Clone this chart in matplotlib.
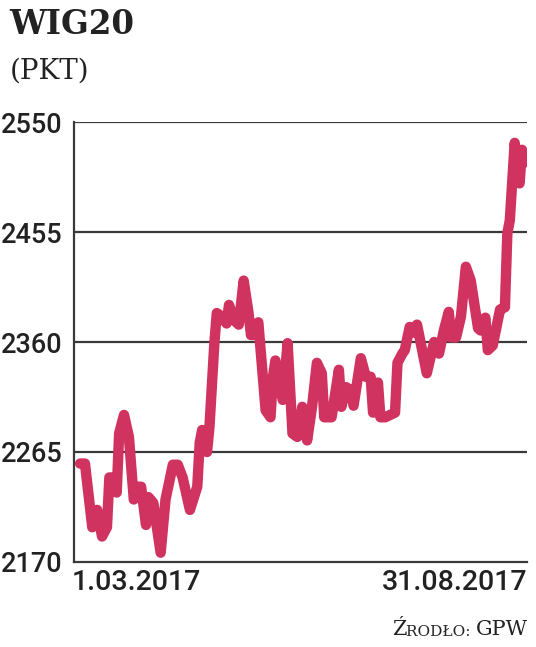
import matplotlib
matplotlib.use("Agg")
import matplotlib.pyplot as plt
import numpy as np

# WIG20 daily close (days since 1.03.2017)
days = [0, 2, 5, 7, 9, 11, 12, 14, 15, 16, 18, 20, 22, 24, 25, 27, 28, 30, 33, 35,
        38, 40, 42, 45, 48, 49, 50, 52, 53, 55, 56, 58, 60, 61, 63, 65, 67, 69, 70, 71,
        73, 76, 78, 79, 80, 83, 85, 87, 89, 91, 93, 95, 97, 99, 100, 103, 106, 107, 109, 111,
        112, 115, 117, 119, 120, 122, 123, 125, 129, 130, 132, 133, 135, 136, 138, 142, 145, 147, 149, 151,
        152, 154, 156, 158, 160, 163, 164, 166, 167, 169, 172, 174, 175, 176, 178, 180, 181, 182]
wig20 = [2255, 2255, 2200, 2215, 2192, 2200, 2243, 2243, 2230, 2281, 2297, 2278, 2224, 2235, 2235, 2202, 2226, 2221, 2178, 2224,
         2254, 2254, 2243, 2215, 2235, 2273, 2284, 2265, 2287, 2359, 2385, 2382, 2376, 2392, 2379, 2375, 2413, 2385, 2366, 2366,
         2377, 2301, 2295, 2330, 2344, 2310, 2359, 2281, 2278, 2304, 2275, 2304, 2342, 2333, 2295, 2295, 2336, 2304, 2321, 2318,
         2305, 2346, 2330, 2330, 2299, 2325, 2295, 2295, 2299, 2342, 2350, 2353, 2373, 2368, 2375, 2333, 2360, 2350, 2370, 2386,
         2364, 2364, 2382, 2425, 2413, 2372, 2370, 2381, 2353, 2357, 2388, 2390, 2454, 2465, 2532, 2497, 2526, 2515]
yticks = [2170, 2265, 2360, 2455, 2550]
xlabels = ["1.03.2017", "31.08.2017"]

narrow = ["Roboto", "DejaVu Sans"]
ink = "#222222"

fig = plt.figure(figsize=(5.36, 6.47), dpi=100)
ax = fig.add_axes([0.138, 0.1314, 0.845, 0.68])

for y in yticks[1:]:
    ax.axhline(y, color="#3a3a3a", lw=1.6, zorder=1)

ax.plot(days, wig20, color="#D0335F", lw=7.5, solid_capstyle="round",
        solid_joinstyle="round", zorder=3)

ax.set_xlim(-2.5, 183)
ax.set_ylim(2170, 2550)
ax.set_yticks(yticks)
ax.set_yticklabels([str(v) for v in yticks], family=narrow, fontsize=19.5,
                   weight="medium", color=ink)
ax.tick_params(axis="y", length=0, pad=8)
ax.set_xticks([])
for s in ["top", "right"]:
    ax.spines[s].set_visible(False)
for s in ["left", "bottom"]:
    ax.spines[s].set_color("#3a3a3a")
    ax.spines[s].set_linewidth(1.6)

ax.text(-0.005, -0.015, xlabels[0], transform=ax.transAxes, ha="left", va="top",
        family=narrow, fontsize=20.5, weight="medium", color=ink)
ax.text(1.0, -0.015, xlabels[1], transform=ax.transAxes, ha="right", va="top",
        family=narrow, fontsize=20.5, weight="medium", color=ink)

fig.text(0.018, 0.948, "WIG20", family="DejaVu Serif", weight="bold", fontsize=23.5,
         color=ink, va="baseline")
fig.text(0.018, 0.878, "(PKT)", family="DejaVu Serif", fontsize=20,
         color=ink, va="baseline")

# source line in small caps, anchored at the right
t3 = fig.text(0.985, 0.012, "GPW", family="DejaVu Serif", fontsize=15, color=ink,
              ha="right", va="bottom")
t2 = fig.add_artist(plt.Annotation("RODŁO: ", xy=(0, 0), xycoords=t3, family="DejaVu Serif",
                                   fontsize=11, color=ink, ha="right", va="bottom"))
fig.add_artist(plt.Annotation("Ź", xy=(0, 0), xycoords=t2, family="DejaVu Serif",
                              fontsize=15, color=ink, ha="right", va="bottom"))

fig.savefig("out.png", dpi=100)
